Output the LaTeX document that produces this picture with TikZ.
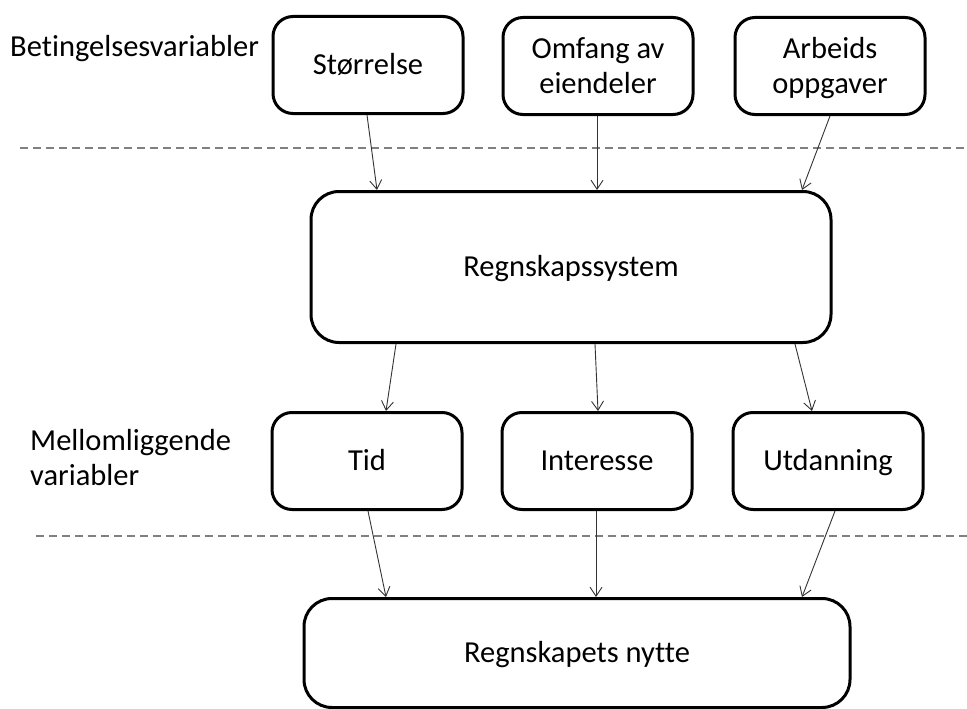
\documentclass[tikz,border=0pt]{standalone}
\usepackage{fontspec}
\setmainfont{Carlito}[Ligatures=NoCommon]
\usetikzlibrary{arrows.meta}
% strut that keeps the text optically centred in the boxes
\newcommand\bxstrut{\rule[-7.4pt]{0pt}{34pt}}
\begin{document}
\begin{tikzpicture}[x=1pt,y=-1pt,
  box/.style={draw=black,line width=3pt,rounded corners=20pt,align=center,
    inner sep=0pt,font=\fontsize{30.5}{33}\selectfont},
  smallbox/.style={box,minimum width=190pt,minimum height=97pt},
  flow/.style={draw=black!80,line width=0.9pt,-{Straight Barb[length=9pt,width=12pt]}},
  divider/.style={draw=black!50,line width=1.4pt,dash pattern=on 8pt off 5pt},
  sidelabel/.style={anchor=west,align=left,inner sep=0pt,font=\fontsize{30.5}{33}\selectfont}]
\useasboundingbox (0,0) rectangle (967,709);

% tier dividers
\coordinate (d1a) at (20,148);  \coordinate (d1b) at (967,148);
\coordinate (d2a) at (36,536);  \coordinate (d2b) at (967,536);
\draw[divider] (d1a) -- (d1b);
\draw[divider] (d2a) -- (d2b);

% side labels
\node[sidelabel] (lab1) at (10,47) {\bxstrut Betingelsesvariabler};
\node[sidelabel] (lab2) at (30,458) {\bxstrut Mellomliggende\\variabler\bxstrut};

% conditioning variables
\node[smallbox] (s1) at (368,65) {\bxstrut Størrelse};
\node[smallbox] (s2) at (598,66) {\bxstrut Omfang av\\eiendeler\bxstrut};
\node[smallbox] (s3) at (830,66) {\bxstrut Arbeids\\oppgaver\bxstrut};

% accounting system
\node[box,rounded corners=28pt,minimum width=520pt,minimum height=151pt] (sys) at (571,267) {\bxstrut Regnskapssystem};

% intermediate variables
\node[smallbox] (m1) at (367,461) {\bxstrut Tid};
\node[smallbox] (m2) at (597,461) {\bxstrut Interesse};
\node[smallbox] (m3) at (828,461) {\bxstrut Utdanning};

% outcome
\node[box,rounded corners=28pt,minimum width=546pt,minimum height=109pt] (out) at (577,653) {\bxstrut Regnskapets nytte};

% arrows
\draw[flow] ([xshift=-1pt]s1.south) -- ([xshift=-194pt]sys.north);
\draw[flow] ([xshift=-1pt]s2.south) -- ([xshift=26pt]sys.north);
\draw[flow] (s3.south) -- ([xshift=231pt]sys.north);

\draw[flow] ([xshift=-175pt]sys.south) -- ([xshift=19pt]m1.north);
\draw[flow] ([xshift=24pt]sys.south) -- ([xshift=1pt]m2.north);
\draw[flow] ([xshift=224pt]sys.south) -- ([xshift=-16pt]m3.north);

\draw[flow] ([xshift=1pt]m1.south) -- ([xshift=-191pt]out.north);
\draw[flow] ([xshift=-1pt]m2.south) -- ([xshift=19pt]out.north);
\draw[flow] ([xshift=7pt]m3.south) -- ([xshift=225pt]out.north);
\end{tikzpicture}
\end{document}
